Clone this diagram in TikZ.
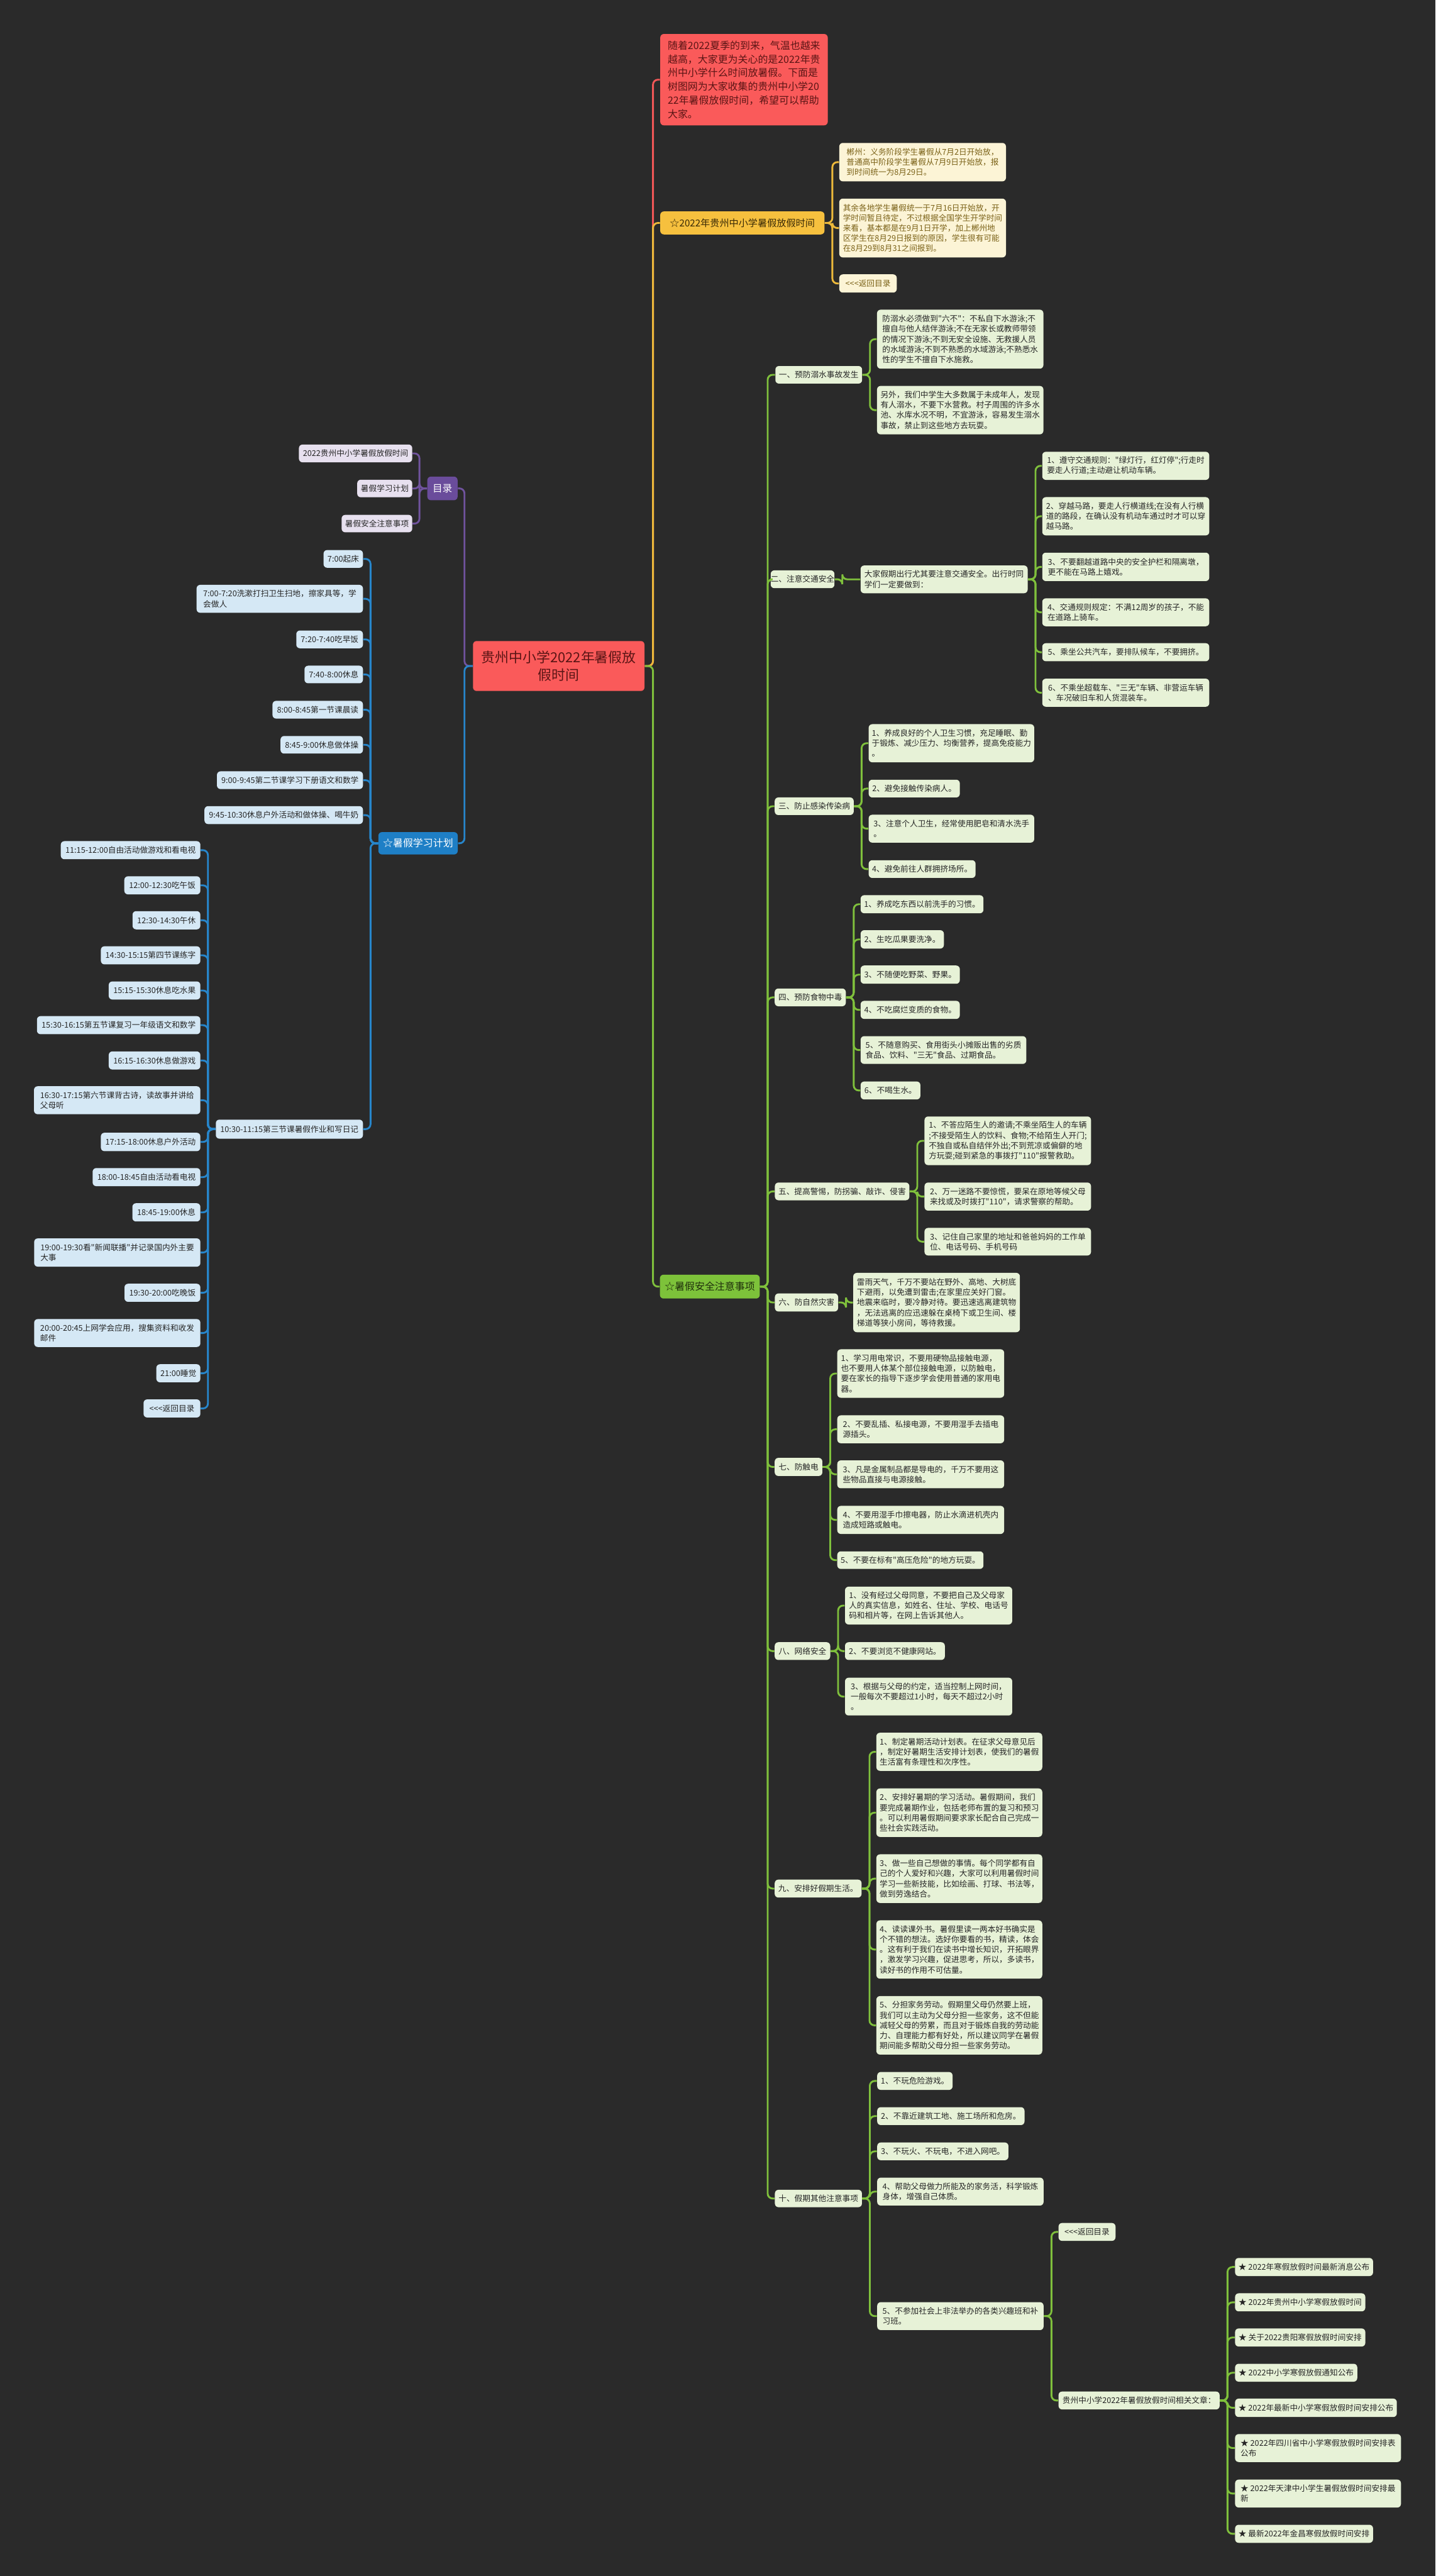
\documentclass[tikz,border=0pt]{standalone}
\usepackage{fontspec}
\newfontfamily\zh{Noto Sans CJK SC}
\definecolor{bgc}{HTML}{2A2A2A}
\definecolor{gLeaf}{HTML}{E7F2D7}
\definecolor{gLine}{HTML}{7FC03C}
\definecolor{gMain}{HTML}{7DC23A}
\definecolor{gText}{HTML}{1E2E0C}
\definecolor{bLeaf}{HTML}{D5E8F5}
\definecolor{bLine}{HTML}{2786CB}
\definecolor{bMain}{HTML}{1E7FC6}
\definecolor{pLeaf}{HTML}{E7E0EF}
\definecolor{pLine}{HTML}{70539E}
\definecolor{pMain}{HTML}{6A4C9B}
\definecolor{yLeaf}{HTML}{FCF4D6}
\definecolor{yLine}{HTML}{EDB93B}
\definecolor{yMain}{HTML}{F6C03E}
\definecolor{yText}{HTML}{7B6218}
\definecolor{sText}{HTML}{3A2A06}
\definecolor{rMain}{HTML}{FA5A5A}
\definecolor{rLine}{HTML}{F25757}
\definecolor{rText}{HTML}{5B1515}
\definecolor{tDark}{HTML}{262626}
\tikzset{
  base/.style={rounded corners=2.2pt, inner sep=0pt, align=left},
  leaffont/.style={font=\zh\fontsize{4.85}{6.2}\selectfont},
  gleaf/.style={base, leaffont, fill=gLeaf, text=tDark},
  bleaf/.style={base, leaffont, fill=bLeaf, text=tDark},
  pleaf/.style={base, leaffont, fill=pLeaf, text=tDark},
  yleaf/.style={base, font=\zh\fontsize{4.85}{6.1}\selectfont, fill=yLeaf, text=yText},
  mainbox/.style={base, font=\zh\fontsize{6.1}{8}\selectfont},
  lk/.style={line width=1.1pt, rounded corners=3pt},
  lkG/.style={lk, draw=gLine},
  lkB/.style={lk, draw=bLine},
  lkP/.style={lk, draw=pLine},
  lkY/.style={lk, draw=yLine},
  lkR/.style={lk, draw=rLine}
}
\newcommand\mmnode[7]{%
  \pgfmathsetmacro\bxw{#5-#3}\pgfmathsetmacro\bxh{#6-#4}%
  \pgfmathsetmacro\bxx{(#3+#5)/2}\pgfmathsetmacro\bxy{(#4+#6)/2}%
  \node[#2,minimum width=\bxw pt,minimum height=\bxh pt] (#1) at (\bxx,\bxy) {#7};}
\newcommand\linkR[3]{\draw[#1] (#2.east) -- ++(4.6,0) |- (#3.west);}
\newcommand\linkL[3]{\draw[#1] (#2.west) -- ++(-4.6,0) |- (#3.east);}
\begin{document}
\begin{tikzpicture}[x=1pt,y=-1pt]
\fill[bgc] (0,0) rectangle (874,1568);
\useasboundingbox (0,0) rectangle (874,1568);

% root
\mmnode{root}{base,fill=rMain,text=rText,font=\zh\fontsize{8.4}{10.8}\selectfont,align=center}{288}{390.2}{392.4}{420.6}{贵州中小学2022年暑假放\\假时间}

% intro and summer
\mmnode{intro}{mainbox,fill=rMain,text=rText,font=\zh\fontsize{6.1}{8.3}\selectfont}{402}{20.7}{504}{76.3}{随着2022夏季的到来，气温也越来\\越高，大家更为关心的是2022年贵\\州中小学什么时间放暑假。下面是\\树图网为大家收集的贵州中小学20\\22年暑假放假时间，希望可以帮助\\大家。}
\mmnode{summer}{mainbox,fill=yMain,text=sText,font=\zh\fontsize{5.8}{7}\selectfont}{402}{128.7}{502}{142.7}{☆2022年贵州中小学暑假放假时间}
\mmnode{y1}{yleaf}{511}{87}{612.5}{110.4}{郴州：义务阶段学生暑假从7月2日开始放，\\普通高中阶段学生暑假从7月9日开始放，报\\到时间统一为8月29日。}
\mmnode{y2}{yleaf}{511}{120.9}{612.5}{156.7}{其余各地学生暑假统一于7月16日开始放，开\\学时间暂且待定，不过根据全国学生开学时间\\来看，基本都是在9月1日开学，加上郴州地\\区学生在8月29日报到的原因，学生很有可能\\在8月29到8月31之间报到。}
\mmnode{y3}{yleaf}{511}{167}{546}{178.1}{<{}<{}<返回目录}

% mulu
\mmnode{mulu}{mainbox,fill=pMain,text=white,font=\zh\fontsize{6}{7}\selectfont}{260.2}{290.1}{278.6}{304.5}{目录}
\mmnode{m1}{pleaf}{182}{270.6}{251}{281.4}{2022贵州中小学暑假放假时间}
\mmnode{m2}{pleaf}{217.5}{292}{251}{302.7}{暑假学习计划}
\mmnode{m3}{pleaf}{208}{313.4}{251}{324}{暑假安全注意事项}

% study plan
\mmnode{plan}{mainbox,fill=bMain,text=white}{230.4}{506.5}{278.7}{520.1}{☆暑假学习计划}
\mmnode{s1}{bleaf}{197}{334.8}{221}{345.6}{7:00起床}
\mmnode{s2}{bleaf}{119.7}{356}{221}{373}{7:00-7:20洗漱打扫卫生扫地，擦家具等，学\\会做人}
\mmnode{s3}{bleaf}{180.4}{383.8}{221}{394.6}{7:20-7:40吃早饭}
\mmnode{s4}{bleaf}{185.4}{405.2}{221}{415.9}{7:40-8:00休息}
\mmnode{s5}{bleaf}{165.9}{426.6}{221}{437.4}{8:00-8:45第一节课晨读}
\mmnode{s6}{bleaf}{170.8}{448}{221}{458.7}{8:45-9:00休息做体操}
\mmnode{s7}{bleaf}{132.1}{469.5}{221}{480.3}{9:00-9:45第二节课学习下册语文和数学}
\mmnode{s8}{bleaf}{124.5}{490.7}{221}{501.6}{9:45-10:30休息户外活动和做体操、喝牛奶}
\mmnode{s9}{bleaf}{131.4}{681.5}{221}{693.1}{10:30-11:15第三节课暑假作业和写日记}
\mmnode{t1}{bleaf}{37}{512}{122}{523}{11:15-12:00自由活动做游戏和看电视}
\mmnode{t2}{bleaf}{75.7}{533.4}{122}{544.4}{12:00-12:30吃午饭}
\mmnode{t3}{bleaf}{80.7}{554.6}{122}{565.7}{12:30-14:30午休}
\mmnode{t4}{bleaf}{61.4}{576}{122}{587}{14:30-15:15第四节课练字}
\mmnode{t5}{bleaf}{66.2}{597.4}{122}{608.4}{15:15-15:30休息吃水果}
\mmnode{t6}{bleaf}{22.5}{618.5}{122}{629.5}{15:30-16:15第五节课复习一年级语文和数学}
\mmnode{t7}{bleaf}{66.2}{640}{122}{651}{16:15-16:30休息做游戏}
\mmnode{t8}{bleaf}{20.7}{661.2}{122}{678.2}{16:30-17:15第六节课背古诗，读故事并讲给\\父母听}
\mmnode{t9}{bleaf}{61.4}{689.5}{122}{700.7}{17:15-18:00休息户外活动}
\mmnode{t10}{bleaf}{56.4}{711}{122}{722}{18:00-18:45自由活动看电视}
\mmnode{t11}{bleaf}{80.6}{732.4}{122}{743.5}{18:45-19:00休息}
\mmnode{t12}{bleaf}{20.8}{753.8}{122}{771}{19:00-19:30看"新闻联播"并记录国内外主要\\大事}
\mmnode{t13}{bleaf}{75.8}{781.4}{122}{792.4}{19:30-20:00吃晚饭}
\mmnode{t14}{bleaf}{20.8}{802.9}{122}{819.9}{20:00-20:45上网学会应用，搜集资料和收发\\邮件}
\mmnode{t15}{bleaf}{95.2}{830.4}{122}{841.4}{21:00睡觉}
\mmnode{t16}{bleaf}{87.4}{851.8}{122}{862.8}{<{}<{}<返回目录}

% safety
\mmnode{safe}{mainbox,fill=gMain,text=gText}{401.8}{775.9}{462.6}{790.4}{☆暑假安全注意事项}
\mmnode{A}{gleaf}{472.1}{222.8}{524.9}{233.5}{一、预防溺水事故发生}
\mmnode{A1}{gleaf}{534}{188.5}{635.3}{224.4}{防溺水必须做到"六不"：不私自下水游泳;不\\擅自与他人结伴游泳;不在无家长或教师带领\\的情况下游泳;不到无安全设施、无救援人员\\的水域游泳;不到不熟悉的水域游泳;不熟悉水\\性的学生不擅自下水施救。}
\mmnode{A2}{gleaf}{534}{234.9}{635.3}{264.4}{另外，我们中学生大多数属于未成年人，发现\\有人溺水，不要下水营救。村子周围的许多水\\池、水库水况不明，不宜游泳，容易发生溺水\\事故，禁止到这些地方去玩耍。}
\mmnode{B}{gleaf}{472.1}{347.2}{505.2}{358}{二、注意交通安全}
\mmnode{B0}{gleaf}{524}{344.2}{625.7}{361.1}{大家假期出行尤其要注意交通安全。出行时同\\学们一定要做到：}
\mmnode{B1}{gleaf}{634.6}{275}{736.3}{292.1}{1、遵守交通规则："绿灯行，红灯停";行走时\\要走人行道;主动避让机动车辆。}
\mmnode{B2}{gleaf}{634.6}{302.6}{736.3}{325.9}{2、穿越马路，要走人行横道线;在没有人行横\\道的路段，在确认没有机动车通过时才可以穿\\越马路。}
\mmnode{B3}{gleaf}{634.6}{336.4}{736.3}{353.7}{3、不要翻越道路中央的安全护栏和隔离墩，\\更不能在马路上嬉戏。}
\mmnode{B4}{gleaf}{634.6}{364.2}{736.3}{381.2}{4、交通规则规定：不满12周岁的孩子，不能\\在道路上骑车。}
\mmnode{B5}{gleaf}{634.6}{391.5}{736.3}{402.5}{5、乘坐公共汽车，要排队候车，不要拥挤。}
\mmnode{B6}{gleaf}{634.6}{413.1}{736.3}{430.2}{6、不乘坐超载车、"三无"车辆、非营运车辆\\、车况破旧车和人货混装车。}
\mmnode{C}{gleaf}{471.7}{485.4}{519.8}{496.1}{三、防止感染传染病}
\mmnode{C1}{gleaf}{528.9}{440.8}{629.7}{464}{1、养成良好的个人卫生习惯，充足睡眠、勤\\于锻炼、减少压力、均衡营养，提高免疫能力\\。}
\mmnode{C2}{gleaf}{528.9}{474.6}{584.4}{485.4}{2、避免接触传染病人。}
\mmnode{C3}{gleaf}{528.9}{495.9}{629.7}{512.9}{3、注意个人卫生，经常使用肥皂和清水洗手\\。}
\mmnode{C4}{gleaf}{528.9}{523.6}{594}{534.4}{4、避免前往人群拥挤场所。}
\mmnode{D}{gleaf}{471.7}{601.7}{515}{612.5}{四、预防食物中毒}
\mmnode{D1}{gleaf}{524}{544.9}{598.8}{555.9}{1、养成吃东西以前洗手的习惯。}
\mmnode{D2}{gleaf}{524}{566.2}{574.7}{577.4}{2、生吃瓜果要洗净。}
\mmnode{D3}{gleaf}{524}{587.7}{584.4}{598.8}{3、不随便吃野菜、野果。}
\mmnode{D4}{gleaf}{524}{609.2}{584.4}{620.2}{4、不吃腐烂变质的食物。}
\mmnode{D5}{gleaf}{524}{630.7}{624.9}{647.6}{5、不随意购买、食用街头小摊贩出售的劣质\\食品、饮料、"三无"食品、过期食品。}
\mmnode{D6}{gleaf}{524}{658.3}{560.4}{669.2}{6、不喝生水。}
\mmnode{E}{gleaf}{471.8}{719.8}{553.7}{730.6}{五、提高警惕，防拐骗、敲诈、侵害}
\mmnode{E1}{gleaf}{562.9}{679.6}{664.3}{709.2}{1、不答应陌生人的邀请;不乘坐陌生人的车辆\\;不接受陌生人的饮料、食物;不给陌生人开门;\\不独自或私自结伴外出;不到荒凉或偏僻的地\\方玩耍;碰到紧急的事拨打"110"报警救助。}
\mmnode{E2}{gleaf}{562.9}{719.8}{664.3}{736.9}{2、万一迷路不要惊慌，要呆在原地等候父母\\来找或及时拨打"110"，请求警察的帮助。}
\mmnode{E3}{gleaf}{562.9}{747.4}{664.3}{764.2}{3、记住自己家里的地址和爸爸妈妈的工作单\\位、电话号码、手机号码}
\mmnode{F}{gleaf}{471.8}{787.3}{510.3}{798.3}{六、防自然灾害}
\mmnode{F1}{gleaf}{519.5}{774.8}{621}{810.9}{雷雨天气，千万不要站在野外、高地、大树底\\下避雨，以免遭到雷击;在家里应关好门窗。\\地震来临时，要冷静对待。要迅速逃离建筑物\\，无法逃离的应迅速躲在桌椅下或卫生间、楼\\梯道等狭小房间，等待救援。}
\mmnode{G}{gleaf}{471.7}{887.4}{500.7}{898.4}{七、防触电}
\mmnode{G1}{gleaf}{509.8}{821.3}{611.4}{850.8}{1、学习用电常识，不要用硬物品接触电源，\\也不要用人体某个部位接触电源，以防触电，\\要在家长的指导下逐步学会使用普通的家用电\\器。}
\mmnode{G2}{gleaf}{509.8}{861.5}{611.4}{878.5}{2、不要乱插、私接电源，不要用湿手去插电\\源插头。}
\mmnode{G3}{gleaf}{509.8}{888.9}{611.4}{905.9}{3、凡是金属制品都是导电的，千万不要用这\\些物品直接与电源接触。}
\mmnode{G4}{gleaf}{509.8}{916.6}{611.4}{933.7}{4、不要用湿手巾擦电器，防止水滴进机壳内\\造成短路或触电。}
\mmnode{G5}{gleaf}{509.8}{944.3}{598.8}{955}{5、不要在标有"高压危险"的地方玩耍。}
\mmnode{H}{gleaf}{471.7}{999.6}{505.5}{1010.4}{八、网络安全}
\mmnode{H1}{gleaf}{514.5}{965.8}{616.3}{988.8}{1、没有经过父母同意，不要把自己及父母家\\人的真实信息，如姓名、住址、学校、电话号\\码和相片等，在网上告诉其他人。}
\mmnode{H2}{gleaf}{514.5}{999.6}{575.3}{1010.4}{2、不要浏览不健康网站。}
\mmnode{H3}{gleaf}{514.5}{1021.2}{616.3}{1044.2}{3、根据与父母的约定，适当控制上网时间，\\一般每次不要超过1小时，每天不超过2小时\\。}
\mmnode{I}{gleaf}{471.7}{1144.1}{524.6}{1155}{九、安排好假期生活。}
\mmnode{I1}{gleaf}{533.6}{1054.7}{634.6}{1077.9}{1、制定暑期活动计划表。在征求父母意见后\\，制定好暑期生活安排计划表，使我们的暑假\\生活富有条理性和次序性。}
\mmnode{I2}{gleaf}{533.6}{1088.6}{634.6}{1118.1}{2、安排好暑期的学习活动。暑假期间，我们\\要完成暑期作业，包括老师布置的复习和预习\\。可以利用暑假期间要求家长配合自己完成一\\些社会实践活动。}
\mmnode{I3}{gleaf}{533.6}{1128.7}{634.6}{1158.3}{3、做一些自己想做的事情。每个同学都有自\\己的个人爱好和兴趣，大家可以利用暑假时间\\学习一些新技能，比如绘画、打球、书法等，\\做到劳逸结合。}
\mmnode{I4}{gleaf}{533.6}{1168.9}{634.6}{1204.4}{4、读读课外书。暑假里读一两本好书确实是\\个不错的想法。选好你要看的书，精读，体会\\。这有利于我们在读书中增长知识，开拓眼界\\，激发学习兴趣，促进思考，所以，多读书，\\读好书的作用不可估量。}
\mmnode{I5}{gleaf}{533.6}{1215}{634.6}{1250.6}{5、分担家务劳动。假期里父母仍然要上班，\\我们可以主动为父母分担一些家务，这不但能\\减轻父母的劳累，而且对于锻炼自我的劳动能\\力、自理能力都有好处，所以建议同学在暑假\\期间能多帮助父母分担一些家务劳动。}
\mmnode{J}{gleaf}{471.8}{1332.9}{524.8}{1343.5}{十、假期其他注意事项}
\mmnode{J1}{gleaf}{534.1}{1261.2}{580}{1272.1}{1、不玩危险游戏。}
\mmnode{J2}{gleaf}{534.1}{1282.6}{623.8}{1293.5}{2、不靠近建筑工地、施工场所和危房。}
\mmnode{J3}{gleaf}{534.1}{1304.1}{614}{1314.9}{3、不玩火、不玩电，不进入网吧。}
\mmnode{J4}{gleaf}{534.1}{1325.5}{635.4}{1342.5}{4、帮助父母做力所能及的家务活，科学锻炼\\身体，增强自己体质。}
\mmnode{J5}{gleaf}{534.1}{1401.3}{635.4}{1418.3}{5、不参加社会上非法举办的各类兴趣班和补\\习班。}
\mmnode{K0}{gleaf}{644.5}{1353.1}{679.2}{1364}{<{}<{}<返回目录}
\mmnode{K}{gleaf}{644.5}{1455.7}{742.6}{1466.6}{贵州中小学2022年暑假放假时间相关文章：}
\mmnode{L1}{gleaf}{752}{1374.4}{836}{1385.4}{★ 2022年寒假放假时间最新消息公布}
\mmnode{L2}{gleaf}{752}{1395.9}{831.3}{1406.9}{★ 2022年贵州中小学寒假放假时间}
\mmnode{L3}{gleaf}{752}{1417.3}{831.3}{1428.3}{★ 关于2022贵阳寒假放假时间安排}
\mmnode{L4}{gleaf}{752}{1438.8}{826.4}{1449.7}{★ 2022中小学寒假放假通知公布}
\mmnode{L5}{gleaf}{752}{1460}{850.5}{1471.2}{★ 2022年最新中小学寒假放假时间安排公布}
\mmnode{L6}{gleaf}{752}{1481.6}{853}{1498.6}{★ 2022年四川省中小学寒假放假时间安排表\\公布}
\mmnode{L7}{gleaf}{752}{1509.3}{853}{1526.3}{★ 2022年天津中小学生暑假放假时间安排最\\新}
\mmnode{L8}{gleaf}{752}{1536.8}{836}{1547.8}{★ 最新2022年金昌寒假放假时间安排}

% connectors
\draw[lkP] (root.west) -- ++(-5,0) |- (mulu.east);
\draw[lkB] (root.west) -- ++(-5,0) |- (plan.east);
\draw[lkR] (root.east) -- ++(5,0) |- (intro.west);
\draw[lkY] (root.east) -- ++(5,0) |- (summer.west);
\draw[lkG] (root.east) -- ++(5,0) |- (safe.west);
\foreach \c in {m1,m2,m3} {\linkL{lkP}{mulu}{\c}}
\foreach \c in {y1,y2,y3} {\linkR{lkY}{summer}{\c}}
\foreach \c in {s1,s2,s3,s4,s5,s6,s7,s8,s9} {\linkL{lkB}{plan}{\c}}
\foreach \c in {t1,t2,t3,t4,t5,t6,t7,t8,t9,t10,t11,t12,t13,t14,t15,t16} {\linkL{lkB}{s9}{\c}}
\foreach \c in {A,B,C,D,E,F,G,H,I,J} {\linkR{lkG}{safe}{\c}}
\foreach \c in {A1,A2} {\linkR{lkG}{A}{\c}}
\linkR{lkG}{B}{B0}
\foreach \c in {B1,B2,B3,B4,B5,B6} {\linkR{lkG}{B0}{\c}}
\foreach \c in {C1,C2,C3,C4} {\linkR{lkG}{C}{\c}}
\foreach \c in {D1,D2,D3,D4,D5,D6} {\linkR{lkG}{D}{\c}}
\foreach \c in {E1,E2,E3} {\linkR{lkG}{E}{\c}}
\linkR{lkG}{F}{F1}
\foreach \c in {G1,G2,G3,G4,G5} {\linkR{lkG}{G}{\c}}
\foreach \c in {H1,H2,H3} {\linkR{lkG}{H}{\c}}
\foreach \c in {I1,I2,I3,I4,I5} {\linkR{lkG}{I}{\c}}
\foreach \c in {J1,J2,J3,J4,J5} {\linkR{lkG}{J}{\c}}
\foreach \c in {K0,K} {\linkR{lkG}{J5}{\c}}
\foreach \c in {L1,L2,L3,L4,L5,L6,L7,L8} {\linkR{lkG}{K}{\c}}
\end{tikzpicture}
\end{document}
